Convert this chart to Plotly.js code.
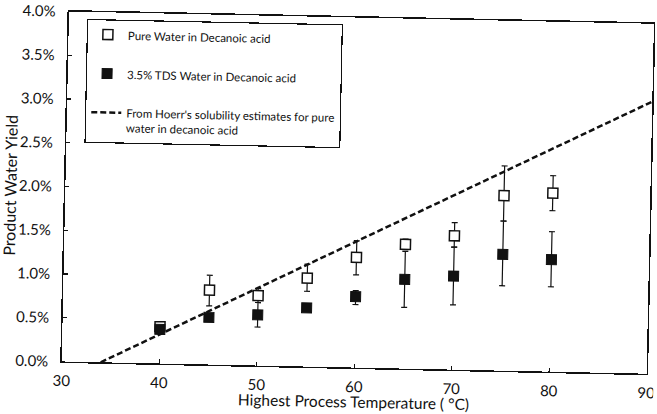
<!DOCTYPE html>
<html>
<head>
<meta charset="utf-8">
<script src="https://cdn.plot.ly/plotly-3.0.1.min.js"></script>
<style>
  html, body { margin: 0; padding: 0; background: #ffffff; overflow: hidden; }
  #chart { width: 657px; height: 414px; transform: rotate(1.2deg); transform-origin: 50% 50%; }
</style>
</head>
<body>
<div id="chart"></div>
<script>
// Highest process temperature (°C) for each test
const temps = [40, 45, 50, 55, 60, 65, 70, 75, 80];

// Pure water in decanoic acid: product water yield (%) and error bars
const pureYield = [0.42, 0.85, 0.80, 1.01, 1.26, 1.42, 1.53, 2.00, 2.04];
const pureErrPlus = [0.03, 0.17, 0.08, 0.16, 0.19, 0.06, 0.15, 0.34, 0.20];
const pureErrMinus = [0.03, 0.18, 0.08, 0.15, 0.20, 0.06, 0.13, 0.29, 0.20];

// 3.5% TDS water in decanoic acid: product water yield (%) and error bars
const tdsYield = [0.39, 0.54, 0.58, 0.67, 0.81, 1.02, 1.07, 1.33, 1.28];
const tdsErrPlus = [0.03, 0.0, 0.14, 0.02, 0.07, 0.32, 0.33, 0.38, 0.32];
const tdsErrMinus = [0.03, 0.0, 0.14, 0.02, 0.09, 0.32, 0.33, 0.36, 0.31];

// Hoerr's solubility estimate line for pure water in decanoic acid
const hoerrTemps = [34, 90];
const hoerrYield = [0, 3.11];

// Axis ticks
const xTicks = [30, 40, 50, 60, 70, 80, 90];
const yTicks = [0, 0.5, 1, 1.5, 2, 2.5, 3, 3.5, 4];
const yTickText = ['0.0%', '0.5%', '1.0%', '1.5%', '2.0%', '2.5%', '3.0%', '3.5%', '4.0%'];

const FONT = 'Lato, "Open Sans", sans-serif';
const INK = '#111111';

const traces = [
  {
    x: hoerrTemps, y: hoerrYield,
    type: 'scatter', mode: 'lines',
    name: "From Hoerr's solubility estimates for pure<br>water in decanoic acid",
    legendgroup: 'c', legendrank: 3,
    line: { color: INK, width: 2.5, dash: '6px,3px' },
    hoverinfo: 'skip'
  },
  {
    x: temps, y: pureYield,
    type: 'scatter', mode: 'markers',
    name: 'Pure Water in Decanoic acid',
    legendgroup: 'a', legendrank: 1,
    marker: { symbol: 'square', size: 10, color: '#ffffff', line: { color: INK, width: 1.5 } },
    error_y: { type: 'data', symmetric: false, array: pureErrPlus, arrayminus: pureErrMinus,
               color: INK, thickness: 1.2, width: 3 }
  },
  {
    x: temps, y: tdsYield,
    type: 'scatter', mode: 'markers',
    name: '3.5% TDS Water in Decanoic acid',
    legendgroup: 'b', legendrank: 2,
    marker: { symbol: 'square', size: 10, color: INK, line: { color: INK, width: 1 } },
    error_y: { type: 'data', symmetric: false, array: tdsErrPlus, arrayminus: tdsErrMinus,
               color: INK, thickness: 1.2, width: 3 }
  }
];

const layout = {
  width: 657, height: 414,
  margin: { l: 65, r: 7, t: 17, b: 47 },
  paper_bgcolor: '#ffffff', plot_bgcolor: '#ffffff',
  font: { family: FONT, color: INK, size: 15 },
  showlegend: true,
  legend: {
    x: 0.031, y: 0.98, xanchor: 'left', yanchor: 'top',
    bgcolor: '#ffffff', bordercolor: INK, borderwidth: 1.2,
    font: { family: FONT, size: 11.5, color: INK },
    tracegroupgap: 20, valign: 'top'
  },
  xaxis: {
    range: [30, 90], tickvals: xTicks, ticktext: xTicks.map(String),
    showgrid: false, zeroline: false,
    showline: true, linecolor: INK, linewidth: 1.5, mirror: true,
    ticks: 'inside', ticklen: 4, tickwidth: 1.2, tickcolor: INK,
    ticklabelstandoff: 5, ticklabeloverflow: 'allow',
    tickfont: { family: FONT, size: 15, color: INK },
    automargin: false
  },
  yaxis: {
    range: [0, 4], tickvals: yTicks, ticktext: yTickText,
    showgrid: false, zeroline: false,
    showline: true, linecolor: INK, linewidth: 1.5, mirror: true,
    ticks: 'inside', ticklen: 4, tickwidth: 1.2, tickcolor: INK,
    ticklabelstandoff: 9, ticklabeloverflow: 'allow',
    tickfont: { family: FONT, size: 15, color: INK },
    title: { text: 'Product Water Yield', font: { family: FONT, size: 16, color: INK }, standoff: 5 },
    automargin: false
  },
  annotations: [
    {
      // x-axis title, placed just below the tick labels
      text: 'Highest Process Temperature ( °C)',
      xref: 'paper', yref: 'paper', x: 0.5, y: -0.098,
      xanchor: 'center', yanchor: 'middle', showarrow: false,
      font: { family: FONT, size: 15.5, color: INK }
    }
  ]
};

Plotly.newPlot('chart', traces, layout, { displayModeBar: false, staticPlot: true });
</script>
</body>
</html>
